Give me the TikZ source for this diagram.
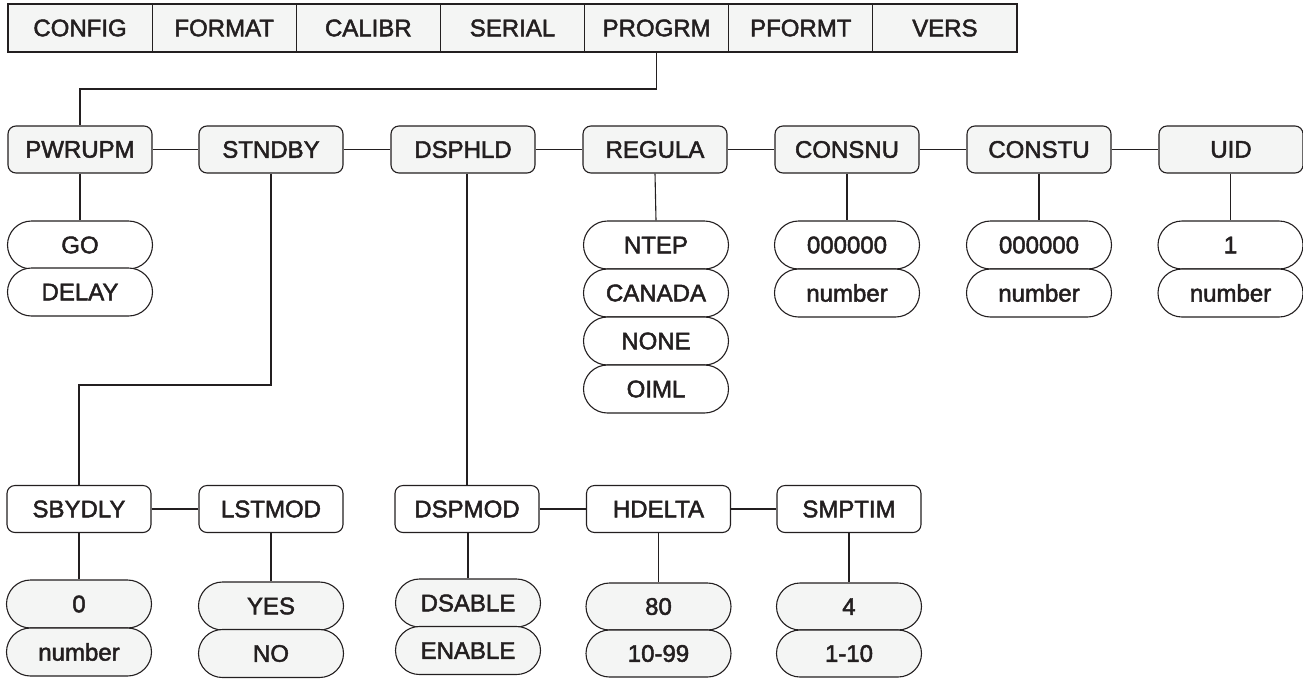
\documentclass[tikz,border=0pt]{standalone}
\usepackage{fontspec}
\setmainfont{Liberation Sans}
\newfontfamily\lblfont{Liberation Sans}[UprightFeatures={FakeBold=2}]
\usetikzlibrary{shapes.misc}
\definecolor{boxfill}{RGB}{244,245,244}
\definecolor{ink}{RGB}{35,31,32}
\tikzset{
  base/.style={draw=ink, line width=1.1pt, text=ink, inner sep=0pt,
    font=\lblfont\fontsize{24}{27}\selectfont, anchor=center},
  topbox/.style={base, rectangle, fill=boxfill, minimum width=144.14pt, minimum height=48pt},
  menubox/.style={base, rectangle, rounded corners=8pt, minimum width=144pt, minimum height=47pt},
  graymenu/.style={menubox, fill=boxfill},
  whitemenu/.style={menubox, fill=white},
  optbox/.style={base, rounded rectangle, minimum width=145pt, minimum height=48pt},
  whiteopt/.style={optbox, fill=white},
  grayopt/.style={optbox, fill=boxfill},
  wire/.style={draw=ink, line width=1.1pt}
}
\begin{document}
\begin{tikzpicture}[x=1pt,y=-1pt]
\useasboundingbox (0,0) rectangle (1303,678);
% top bar
\node[topbox] (config) at (80.07,28) {CONFIG};
\node[topbox] (format) at (224.21,28) {FORMAT};
\node[topbox] (calibr) at (368.35,28) {CALIBR};
\node[topbox] (serial) at (512.49,28) {SERIAL};
\node[topbox] (progrm) at (656.63,28) {PROGRM};
\node[topbox] (pformt) at (800.77,28) {PFORMT};
\node[topbox] (vers) at (944.91,28) {VERS};
% main row
\node[graymenu] (pwrupm) at (80,149.5) {PWRUPM};
\node[graymenu] (stndby) at (271,149.5) {STNDBY};
\node[graymenu] (dsphld) at (463,149.5) {DSPHLD};
\node[graymenu] (regula) at (655,149.5) {REGULA};
\node[graymenu] (consnu) at (847,149.5) {CONSNU};
\node[graymenu] (constu) at (1039,149.5) {CONSTU};
\node[graymenu] (uid) at (1231,149.5) {UID};
% options of main row
\node[whiteopt] (go) at (80,245) {GO};
\node[whiteopt] (delay) at (80,292) {DELAY};
\node[whiteopt] (ntep) at (656,245) {NTEP};
\node[whiteopt] (canada) at (656,293) {CANADA};
\node[whiteopt] (none) at (656,341) {NONE};
\node[whiteopt] (oiml) at (656,389) {OIML};
\node[whiteopt] (consnuA) at (847,245) {000000};
\node[whiteopt] (consnuB) at (847,293) {number};
\node[whiteopt] (constuA) at (1039,245) {000000};
\node[whiteopt] (constuB) at (1039,293) {number};
\node[whiteopt] (uidA) at (1230.5,245) {1};
\node[whiteopt] (uidB) at (1230.5,293) {number};
% bottom row
\node[whitemenu] (sbydly) at (79,509) {SBYDLY};
\node[whitemenu] (lstmod) at (271,509) {LSTMOD};
\node[whitemenu] (dspmod) at (467,509) {DSPMOD};
\node[whitemenu] (hdelta) at (658.5,509) {HDELTA};
\node[whitemenu] (smptim) at (849,509) {SMPTIM};
% options of bottom row
\node[grayopt] (sbyA) at (79,604) {0};
\node[grayopt] (sbyB) at (79,652) {number};
\node[grayopt] (lstA) at (271,606) {YES};
\node[grayopt] (lstB) at (271,653.5) {NO};
\node[grayopt] (dspA) at (468,603) {DSABLE};
\node[grayopt] (dspB) at (468,650.5) {ENABLE};
\node[grayopt, minimum height=47pt] (hdA) at (658.5,606.5) {80};
\node[grayopt, minimum height=47pt] (hdB) at (658.5,653.5) {10-99};
\node[grayopt, minimum height=47pt] (smA) at (849,606.5) {4};
\node[grayopt, minimum height=47pt] (smB) at (849,653.5) {1-10};
% junctions
\coordinate (j1) at (0,89);
\coordinate (j2) at (0,385);
% connectors
\draw[wire] (progrm.south) -- (progrm.south |- j1) -| (pwrupm.north);
\draw[wire] (pwrupm.east) -- (stndby.west);
\draw[wire] (stndby.east) -- (dsphld.west);
\draw[wire] (dsphld.east) -- (regula.west);
\draw[wire] (regula.east) -- (consnu.west);
\draw[wire] (consnu.east) -- (constu.west);
\draw[wire] (constu.east) -- (uid.west);
\draw[wire] (pwrupm.south) -- (go.north);
\draw[wire] (regula.south) -- (ntep.north);
\draw[wire] (consnu.south) -- (consnuA.north);
\draw[wire] (constu.south) -- (constuA.north);
\draw[wire] (uid.south -| uidA.north) -- (uidA.north);
\draw[wire] (stndby.south) -- (stndby.south |- j2) -| (sbydly.north);
\draw[wire] (dspmod.north |- dsphld.south) -- (dspmod.north);
\draw[wire] (sbydly.east) -- (lstmod.west);
\draw[wire] (dspmod.east) -- (hdelta.west);
\draw[wire] (hdelta.east) -- (smptim.west);
\draw[wire] (sbydly.south) -- (sbyA.north);
\draw[wire] (lstmod.south) -- (lstA.north);
\draw[wire] (dspmod.south -| dspA.north) -- (dspA.north);
\draw[wire] (hdelta.south) -- (hdA.north);
\draw[wire] (smptim.south) -- (smA.north);
\end{tikzpicture}
\end{document}
